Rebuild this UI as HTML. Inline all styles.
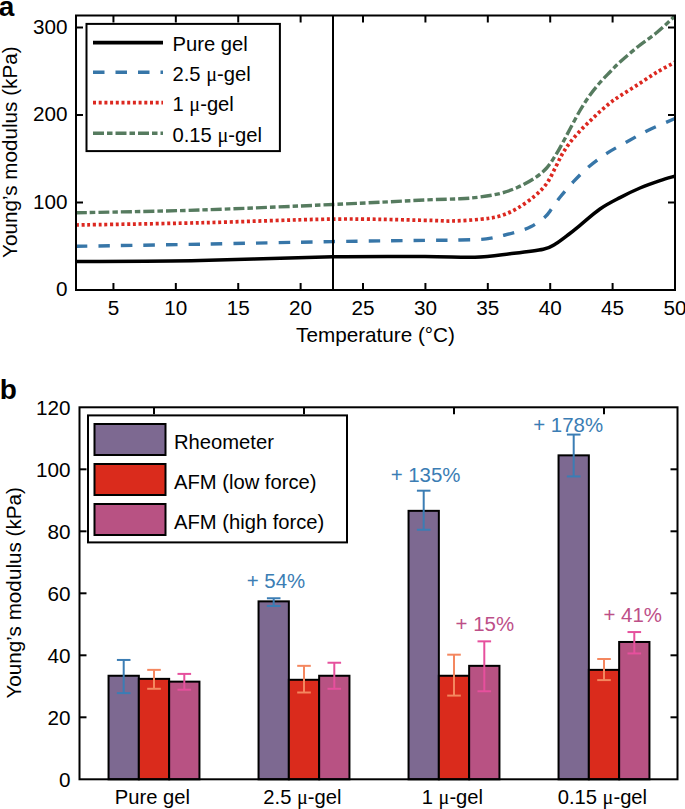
<!DOCTYPE html>
<html><head><meta charset="utf-8"><style>
html,body{margin:0;padding:0;background:#fff;}
svg{display:block;}
text{font-family:"Liberation Sans", sans-serif;font-size:20.7px;fill:#000;}
</style></head><body>
<svg width="685" height="809" viewBox="0 0 685 809">
<defs><clipPath id="ca"><rect x="76" y="15.5" width="599" height="274.5"/></clipPath></defs>
<g clip-path="url(#ca)" fill="none">
<path d="M76.00,261.60 C96.67,261.42 157.17,261.30 200.00,260.50 C242.83,259.70 295.50,257.47 333.00,256.80 C370.50,256.13 401.33,256.43 425.00,256.50 C448.67,256.57 460.83,257.65 475.00,257.20 C489.17,256.75 498.62,255.12 510.00,253.80 C521.38,252.48 535.73,250.93 543.30,249.30 C550.87,247.67 551.08,246.55 555.40,244.00 C559.72,241.45 565.10,237.12 569.20,234.00 C573.30,230.88 574.87,229.47 580.00,225.30 C585.13,221.13 593.33,213.62 600.00,209.00 C606.67,204.38 613.33,201.10 620.00,197.60 C626.67,194.10 633.33,190.83 640.00,188.00 C646.67,185.17 654.17,182.58 660.00,180.60 C665.83,178.62 672.50,176.85 675.00,176.10" stroke="#000" stroke-width="3.5"/>
<path d="M76.00,246.30 C96.67,245.95 157.17,244.98 200.00,244.20 C242.83,243.42 295.50,242.23 333.00,241.60 C370.50,240.97 403.83,240.67 425.00,240.40 C446.17,240.13 449.78,240.25 460.00,240.00 C470.22,239.75 479.05,239.68 486.30,238.90 C493.55,238.12 498.33,236.48 503.50,235.30 C508.67,234.12 512.68,233.25 517.30,231.80 C521.92,230.35 526.58,229.07 531.20,226.60 C535.82,224.13 541.55,220.02 545.00,217.00 C548.45,213.98 549.30,211.92 551.90,208.50 C554.50,205.08 557.13,200.83 560.60,196.50 C564.07,192.17 568.17,187.33 572.70,182.50 C577.23,177.67 582.18,172.32 587.80,167.50 C593.42,162.68 600.10,157.75 606.40,153.60 C612.70,149.45 618.70,146.45 625.60,142.60 C632.50,138.75 639.57,134.52 647.80,130.50 C656.03,126.48 670.47,120.50 675.00,118.50" stroke="#3776a8" stroke-width="3.4" stroke-dasharray="11.5 11"/>
<path d="M76.00,225.00 C96.67,224.63 157.17,223.78 200.00,222.80 C242.83,221.82 295.50,219.52 333.00,219.10 C370.50,218.68 405.17,219.98 425.00,220.30 C444.83,220.62 442.83,221.17 452.00,221.00 C461.17,220.83 472.00,220.13 480.00,219.30 C488.00,218.47 493.78,217.83 500.00,216.00 C506.22,214.17 511.53,211.62 517.30,208.30 C523.07,204.98 529.70,200.23 534.60,196.10 C539.50,191.97 543.23,188.27 546.70,183.50 C550.17,178.73 552.80,172.42 555.40,167.50 C558.00,162.58 559.87,158.17 562.30,154.00 C564.73,149.83 567.05,146.33 570.00,142.50 C572.95,138.67 576.67,134.58 580.00,131.00 C583.33,127.42 586.67,124.25 590.00,121.00 C593.33,117.75 596.67,114.50 600.00,111.50 C603.33,108.50 606.67,105.58 610.00,103.00 C613.33,100.42 615.25,99.13 620.00,96.00 C624.75,92.87 632.32,88.18 638.50,84.20 C644.68,80.22 651.02,75.77 657.10,72.10 C663.18,68.43 672.02,63.85 675.00,62.20" stroke="#dc2820" stroke-width="3.7" stroke-dasharray="3 2.7"/>
<path d="M76.00,212.80 C96.67,212.33 157.17,211.38 200.00,210.00 C242.83,208.62 295.50,206.17 333.00,204.50 C370.50,202.83 403.83,200.95 425.00,200.00 C446.17,199.05 450.83,199.30 460.00,198.80 C469.17,198.30 473.33,197.88 480.00,197.00 C486.67,196.12 493.78,195.08 500.00,193.50 C506.22,191.92 511.53,190.07 517.30,187.50 C523.07,184.93 529.70,181.35 534.60,178.10 C539.50,174.85 543.23,171.75 546.70,168.00 C550.17,164.25 552.80,159.68 555.40,155.60 C558.00,151.52 559.87,147.93 562.30,143.50 C564.73,139.07 567.05,134.50 570.00,129.00 C572.95,123.50 576.67,116.17 580.00,110.50 C583.33,104.83 586.67,99.67 590.00,95.00 C593.33,90.33 596.67,86.33 600.00,82.50 C603.33,78.67 606.67,75.42 610.00,72.00 C613.33,68.58 615.25,66.30 620.00,62.00 C624.75,57.70 632.32,51.15 638.50,46.20 C644.68,41.25 651.02,37.33 657.10,32.30 C663.18,27.27 672.02,18.72 675.00,16.00" stroke="#567b5f" stroke-width="3.4" stroke-dasharray="11 3 5.5 3"/>
</g>
<line x1="333" y1="15.5" x2="333" y2="290" stroke="#000" stroke-width="2"/>
<rect x="76" y="15.5" width="599" height="274.5" fill="none" stroke="#000" stroke-width="2"/>
<line x1="113.44" y1="290" x2="113.44" y2="283" stroke="#000" stroke-width="2"/>
<line x1="113.44" y1="15.5" x2="113.44" y2="22.5" stroke="#000" stroke-width="2"/>
<text x="113.44" y="314.5" text-anchor="middle">5</text>
<line x1="175.83" y1="290" x2="175.83" y2="283" stroke="#000" stroke-width="2"/>
<line x1="175.83" y1="15.5" x2="175.83" y2="22.5" stroke="#000" stroke-width="2"/>
<text x="175.83" y="314.5" text-anchor="middle">10</text>
<line x1="238.23" y1="290" x2="238.23" y2="283" stroke="#000" stroke-width="2"/>
<line x1="238.23" y1="15.5" x2="238.23" y2="22.5" stroke="#000" stroke-width="2"/>
<text x="238.23" y="314.5" text-anchor="middle">15</text>
<line x1="300.62" y1="290" x2="300.62" y2="283" stroke="#000" stroke-width="2"/>
<line x1="300.62" y1="15.5" x2="300.62" y2="22.5" stroke="#000" stroke-width="2"/>
<text x="300.62" y="314.5" text-anchor="middle">20</text>
<line x1="363.02" y1="290" x2="363.02" y2="283" stroke="#000" stroke-width="2"/>
<line x1="363.02" y1="15.5" x2="363.02" y2="22.5" stroke="#000" stroke-width="2"/>
<text x="363.02" y="314.5" text-anchor="middle">25</text>
<line x1="425.42" y1="290" x2="425.42" y2="283" stroke="#000" stroke-width="2"/>
<line x1="425.42" y1="15.5" x2="425.42" y2="22.5" stroke="#000" stroke-width="2"/>
<text x="425.42" y="314.5" text-anchor="middle">30</text>
<line x1="487.81" y1="290" x2="487.81" y2="283" stroke="#000" stroke-width="2"/>
<line x1="487.81" y1="15.5" x2="487.81" y2="22.5" stroke="#000" stroke-width="2"/>
<text x="487.81" y="314.5" text-anchor="middle">35</text>
<line x1="550.21" y1="290" x2="550.21" y2="283" stroke="#000" stroke-width="2"/>
<line x1="550.21" y1="15.5" x2="550.21" y2="22.5" stroke="#000" stroke-width="2"/>
<text x="550.21" y="314.5" text-anchor="middle">40</text>
<line x1="612.60" y1="290" x2="612.60" y2="283" stroke="#000" stroke-width="2"/>
<line x1="612.60" y1="15.5" x2="612.60" y2="22.5" stroke="#000" stroke-width="2"/>
<text x="612.60" y="314.5" text-anchor="middle">45</text>
<text x="675.00" y="314.5" text-anchor="middle">50</text>
<text x="67.5" y="296.20" text-anchor="end">0</text>
<line x1="76" y1="202.50" x2="83" y2="202.50" stroke="#000" stroke-width="2"/>
<line x1="675" y1="202.50" x2="668" y2="202.50" stroke="#000" stroke-width="2"/>
<text x="67.5" y="208.70" text-anchor="end">100</text>
<line x1="76" y1="115.00" x2="83" y2="115.00" stroke="#000" stroke-width="2"/>
<line x1="675" y1="115.00" x2="668" y2="115.00" stroke="#000" stroke-width="2"/>
<text x="67.5" y="121.20" text-anchor="end">200</text>
<line x1="76" y1="27.50" x2="83" y2="27.50" stroke="#000" stroke-width="2"/>
<line x1="675" y1="27.50" x2="668" y2="27.50" stroke="#000" stroke-width="2"/>
<text x="67.5" y="33.70" text-anchor="end">300</text>
<text x="375.5" y="342" text-anchor="middle">Temperature (°C)</text>
<text transform="translate(16.8,152.2) rotate(-90)" text-anchor="middle">Young’s modulus (kPa)</text>
<text x="-1.3" y="16" style="font-weight:bold;font-size:28px">a</text>
<rect x="86.5" y="23.9" width="193.4" height="127.2" fill="#fff" stroke="#000" stroke-width="2"/>
<line x1="93" y1="42.7" x2="163" y2="42.7" stroke="#000" stroke-width="3.8"/>
<line x1="93" y1="72.3" x2="163" y2="72.3" stroke="#3776a8" stroke-width="3.4" stroke-dasharray="11.5 11"/>
<line x1="93" y1="102.7" x2="163" y2="102.7" stroke="#dc2820" stroke-width="3.7" stroke-dasharray="3 2.7"/>
<line x1="93" y1="133.2" x2="163" y2="133.2" stroke="#567b5f" stroke-width="3.4" stroke-dasharray="11 3 5.5 3"/>
<text x="172.5" y="51.20" style="font-size:20.2px">Pure gel</text>
<text x="172.5" y="80.80" style="font-size:20.2px">2.5 <tspan style="font-family:'Liberation Serif', serif">μ</tspan>-gel</text>
<text x="172.5" y="111.20" style="font-size:20.2px">1 <tspan style="font-family:'Liberation Serif', serif">μ</tspan>-gel</text>
<text x="172.5" y="141.70" style="font-size:20.2px">0.15 <tspan style="font-family:'Liberation Serif', serif">μ</tspan>-gel</text>
<rect x="108.55" y="675.76" width="30.30" height="103.54" fill="#7d6991" stroke="#000" stroke-width="2"/>
<rect x="138.85" y="678.86" width="30.30" height="100.44" fill="#da2b1c" stroke="#000" stroke-width="2"/>
<rect x="169.15" y="681.65" width="30.30" height="97.65" fill="#b85283" stroke="#000" stroke-width="2"/>
<rect x="258.55" y="601.36" width="30.30" height="177.94" fill="#7d6991" stroke="#000" stroke-width="2"/>
<rect x="288.85" y="679.79" width="30.30" height="99.51" fill="#da2b1c" stroke="#000" stroke-width="2"/>
<rect x="319.15" y="675.76" width="30.30" height="103.54" fill="#b85283" stroke="#000" stroke-width="2"/>
<rect x="408.55" y="510.84" width="30.30" height="268.46" fill="#7d6991" stroke="#000" stroke-width="2"/>
<rect x="438.85" y="675.76" width="30.30" height="103.54" fill="#da2b1c" stroke="#000" stroke-width="2"/>
<rect x="469.15" y="665.84" width="30.30" height="113.46" fill="#b85283" stroke="#000" stroke-width="2"/>
<rect x="558.55" y="455.35" width="30.30" height="323.95" fill="#7d6991" stroke="#000" stroke-width="2"/>
<rect x="588.85" y="669.87" width="30.30" height="109.43" fill="#da2b1c" stroke="#000" stroke-width="2"/>
<rect x="619.15" y="641.97" width="30.30" height="137.33" fill="#b85283" stroke="#000" stroke-width="2"/>
<g stroke="#3b7db4" stroke-width="2" fill="none"><line x1="123.70" y1="659.95" x2="123.70" y2="693.12"/><line x1="116.90" y1="659.95" x2="130.50" y2="659.95"/><line x1="116.90" y1="693.12" x2="130.50" y2="693.12"/></g>
<g stroke="#f4875f" stroke-width="2" fill="none"><line x1="154.00" y1="669.87" x2="154.00" y2="688.78"/><line x1="147.20" y1="669.87" x2="160.80" y2="669.87"/><line x1="147.20" y1="688.78" x2="160.80" y2="688.78"/></g>
<g stroke="#e6509d" stroke-width="2" fill="none"><line x1="184.30" y1="673.90" x2="184.30" y2="689.71"/><line x1="177.50" y1="673.90" x2="191.10" y2="673.90"/><line x1="177.50" y1="689.71" x2="191.10" y2="689.71"/></g>
<g stroke="#3b7db4" stroke-width="2" fill="none"><line x1="273.70" y1="598.26" x2="273.70" y2="606.01"/><line x1="266.90" y1="598.26" x2="280.50" y2="598.26"/><line x1="266.90" y1="606.01" x2="280.50" y2="606.01"/></g>
<g stroke="#f4875f" stroke-width="2" fill="none"><line x1="304.00" y1="665.84" x2="304.00" y2="692.50"/><line x1="297.20" y1="665.84" x2="310.80" y2="665.84"/><line x1="297.20" y1="692.50" x2="310.80" y2="692.50"/></g>
<g stroke="#e6509d" stroke-width="2" fill="none"><line x1="334.30" y1="662.74" x2="334.30" y2="688.78"/><line x1="327.50" y1="662.74" x2="341.10" y2="662.74"/><line x1="327.50" y1="688.78" x2="341.10" y2="688.78"/></g>
<g stroke="#3b7db4" stroke-width="2" fill="none"><line x1="423.70" y1="490.69" x2="423.70" y2="529.75"/><line x1="416.90" y1="490.69" x2="430.50" y2="490.69"/><line x1="416.90" y1="529.75" x2="430.50" y2="529.75"/></g>
<g stroke="#f4875f" stroke-width="2" fill="none"><line x1="454.00" y1="654.68" x2="454.00" y2="695.60"/><line x1="447.20" y1="654.68" x2="460.80" y2="654.68"/><line x1="447.20" y1="695.60" x2="460.80" y2="695.60"/></g>
<g stroke="#e6509d" stroke-width="2" fill="none"><line x1="484.30" y1="641.35" x2="484.30" y2="691.26"/><line x1="477.50" y1="641.35" x2="491.10" y2="641.35"/><line x1="477.50" y1="691.26" x2="491.10" y2="691.26"/></g>
<g stroke="#3b7db4" stroke-width="2" fill="none"><line x1="573.70" y1="434.58" x2="573.70" y2="476.43"/><line x1="566.90" y1="434.58" x2="580.50" y2="434.58"/><line x1="566.90" y1="476.43" x2="580.50" y2="476.43"/></g>
<g stroke="#f4875f" stroke-width="2" fill="none"><line x1="604.00" y1="659.02" x2="604.00" y2="680.10"/><line x1="597.20" y1="659.02" x2="610.80" y2="659.02"/><line x1="597.20" y1="680.10" x2="610.80" y2="680.10"/></g>
<g stroke="#e6509d" stroke-width="2" fill="none"><line x1="634.30" y1="632.05" x2="634.30" y2="653.44"/><line x1="627.50" y1="632.05" x2="641.10" y2="632.05"/><line x1="627.50" y1="653.44" x2="641.10" y2="653.44"/></g>
<rect x="79.5" y="407.3" width="598" height="372" fill="none" stroke="#000" stroke-width="2"/>
<line x1="154" y1="407.3" x2="154" y2="414.3" stroke="#000" stroke-width="2"/>
<line x1="304" y1="407.3" x2="304" y2="414.3" stroke="#000" stroke-width="2"/>
<line x1="454" y1="407.3" x2="454" y2="414.3" stroke="#000" stroke-width="2"/>
<line x1="604" y1="407.3" x2="604" y2="414.3" stroke="#000" stroke-width="2"/>
<text x="70.5" y="786.70" text-anchor="end">0</text>
<line x1="79.5" y1="717.30" x2="86.5" y2="717.30" stroke="#000" stroke-width="2"/>
<line x1="677.5" y1="717.30" x2="670.5" y2="717.30" stroke="#000" stroke-width="2"/>
<text x="70.5" y="724.70" text-anchor="end">20</text>
<line x1="79.5" y1="655.30" x2="86.5" y2="655.30" stroke="#000" stroke-width="2"/>
<line x1="677.5" y1="655.30" x2="670.5" y2="655.30" stroke="#000" stroke-width="2"/>
<text x="70.5" y="662.70" text-anchor="end">40</text>
<line x1="79.5" y1="593.30" x2="86.5" y2="593.30" stroke="#000" stroke-width="2"/>
<line x1="677.5" y1="593.30" x2="670.5" y2="593.30" stroke="#000" stroke-width="2"/>
<text x="70.5" y="600.70" text-anchor="end">60</text>
<line x1="79.5" y1="531.30" x2="86.5" y2="531.30" stroke="#000" stroke-width="2"/>
<line x1="677.5" y1="531.30" x2="670.5" y2="531.30" stroke="#000" stroke-width="2"/>
<text x="70.5" y="538.70" text-anchor="end">80</text>
<line x1="79.5" y1="469.30" x2="86.5" y2="469.30" stroke="#000" stroke-width="2"/>
<line x1="677.5" y1="469.30" x2="670.5" y2="469.30" stroke="#000" stroke-width="2"/>
<text x="70.5" y="476.70" text-anchor="end">100</text>
<text x="70.5" y="414.70" text-anchor="end">120</text>
<text x="152.4" y="803.5" text-anchor="middle" style="font-size:20.2px">Pure gel</text>
<text x="302.4" y="803.5" text-anchor="middle" style="font-size:20.2px">2.5 <tspan style="font-family:'Liberation Serif', serif">μ</tspan>-gel</text>
<text x="452.4" y="803.5" text-anchor="middle" style="font-size:20.2px">1 <tspan style="font-family:'Liberation Serif', serif">μ</tspan>-gel</text>
<text x="602.4" y="803.5" text-anchor="middle" style="font-size:20.2px">0.15 <tspan style="font-family:'Liberation Serif', serif">μ</tspan>-gel</text>
<text transform="translate(20.6,592.8) rotate(-90)" text-anchor="middle">Young’s modulus (kPa)</text>
<text x="-0.3" y="399.2" style="font-weight:bold;font-size:28px">b</text>
<rect x="88" y="415.4" width="259" height="127" fill="#fff" stroke="#000" stroke-width="2"/>
<rect x="94.5" y="424.00" width="71" height="31" fill="#7d6991" stroke="#000" stroke-width="2"/>
<text x="174" y="449.00" style="font-size:20.2px">Rheometer</text>
<rect x="94.5" y="464.00" width="71" height="31" fill="#da2b1c" stroke="#000" stroke-width="2"/>
<text x="174" y="489.00" style="font-size:20.2px">AFM (low force)</text>
<rect x="94.5" y="504.00" width="71" height="31" fill="#b85283" stroke="#000" stroke-width="2"/>
<text x="174" y="529.00" style="font-size:20.2px">AFM (high force)</text>
<text x="276" y="587.7" text-anchor="middle" style="fill:#3b7db4;font-size:20.45px">+ 54%</text>
<text x="425.6" y="481.5" text-anchor="middle" style="fill:#3b7db4;font-size:20.45px">+ 135%</text>
<text x="568.2" y="431.5" text-anchor="middle" style="fill:#3b7db4;font-size:20.45px">+ 178%</text>
<text x="484.8" y="630.8" text-anchor="middle" style="fill:#bd4f88;font-size:20.45px">+ 15%</text>
<text x="632.7" y="621.7" text-anchor="middle" style="fill:#bd4f88;font-size:20.45px">+ 41%</text>
</svg>
</body></html>
